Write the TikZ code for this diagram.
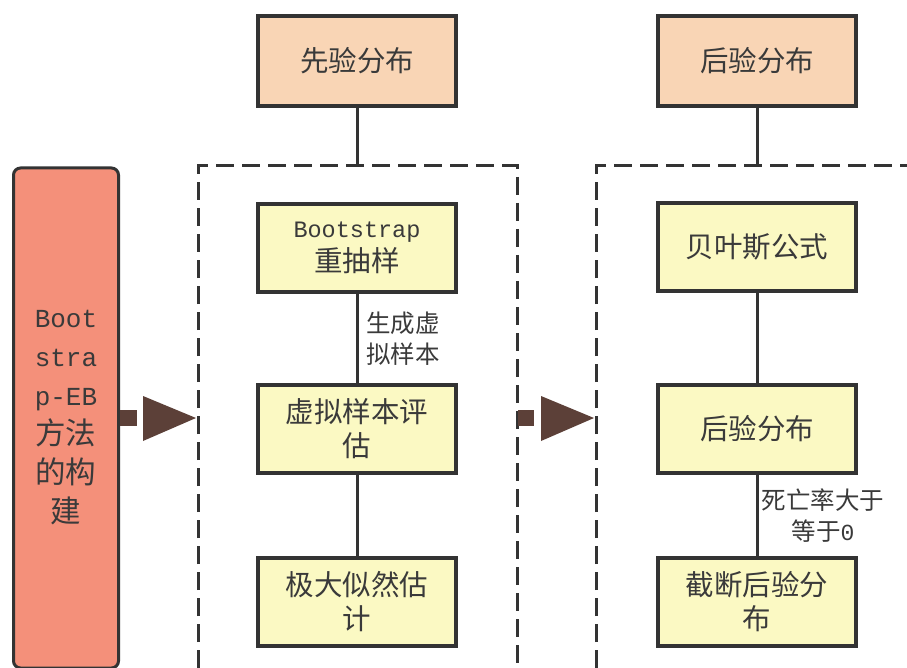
\documentclass[tikz,border=0pt]{standalone}
\usepackage{fontspec}
\newfontfamily\cjk{Noto Sans CJK SC}
\setmonofont{Liberation Mono}
\definecolor{bordc}{HTML}{333333}
\definecolor{txtc}{HTML}{3A3A3A}
\definecolor{salmon}{HTML}{F4907A}
\definecolor{peach}{HTML}{F9D5B5}
\definecolor{pyellow}{HTML}{FBF9C3}
\definecolor{arrowc}{HTML}{5C4038}
\begin{document}
\begin{tikzpicture}[x=1pt,y=-1pt,
  box/.style={draw=bordc, line width=4pt, minimum width=198pt, minimum height=88pt,
    align=center, text=txtc, font=\cjk\fontsize{28.5}{34}\selectfont, inner sep=0pt},
  topbox/.style={box, fill=peach, minimum height=90pt},
  stepbox/.style={box, fill=pyellow},
  conn/.style={draw=bordc, line width=3pt},
  dbox/.style={draw=bordc, line width=3pt, dash pattern=on 18pt off 8pt},
  lbl/.style={align=center, text=txtc, font=\cjk\fontsize{24.5}{31}\selectfont, inner sep=0pt},
  arr/.style={fill=arrowc}
]
\clip (0,0) rectangle (907,668);
\fill[white] (0,0) rectangle (907,668);

% left rounded box
\node (L) [draw=bordc, line width=3pt, fill=salmon, rounded corners=7pt,
  minimum width=105pt, minimum height=500pt, align=center, text=txtc, inner sep=0pt,
  font=\cjk\fontsize{30.5}{39}\selectfont] at (66,418)
  {{\ttfamily\fontsize{26}{39}\selectfont Boot}\\{\ttfamily\fontsize{26}{39}\selectfont stra}\\{\ttfamily\fontsize{26}{39}\selectfont p-EB}\\方法\\的构\\建};

% dashed containers
\coordinate (d1a) at (198,166);
\coordinate (d1b) at (517,166);
\coordinate (d2a) at (596,166);
\draw[dbox] (198,720) -- (d1a) -- (d1b) -- (517,720);
\draw[dbox] (596,720) -- (d2a) -- (960,166);

% left column
\node (P1) [topbox] at (357,61) {先验分布};
\node (B1) [stepbox] at (357,248) {{\ttfamily\fontsize{23.5}{33}\selectfont Bootstrap}\\重抽样};
\node (B2) [stepbox] at (357,429) {虚拟样本评\\估};
\node (B3) [stepbox] at (357,602) {极大似然估\\计};

% right column
\node (P2) [topbox] at (757,61) {后验分布};
\node (C1) [stepbox] at (757,247) {贝叶斯公式};
\node (C2) [stepbox] at (757,429) {后验分布};
\node (C3) [stepbox] at (757,602) {截断后验分\\布};

% connectors
\draw[conn] (P1.south) -- (P1.south |- d1a);
\draw[conn] (B1.south) -- (B2.north);
\draw[conn] (B2.south) -- (B3.north);
\draw[conn] (P2.south) -- (P2.south |- d2a);
\draw[conn] (C1.south) -- (C2.north);
\draw[conn] (C2.south) -- (C3.north);

% connector labels
\node (t1) [lbl] at (403,339) {生成虚\\拟样本};
\node (t2) [lbl] at (823,516) {死亡率大于\\等于{\ttfamily\fontsize{23}{31}\selectfont 0}};

% block arrows
\fill[arr] (L.east |- 0,410) rectangle (137,426);
\fill[arr] (143,396) -- (196,418) -- (143,441) -- cycle;
\fill[arr] (518,410) rectangle (534,426);
\fill[arr] (541,396) -- (594,418) -- (541,441) -- cycle;
\end{tikzpicture}
\end{document}
